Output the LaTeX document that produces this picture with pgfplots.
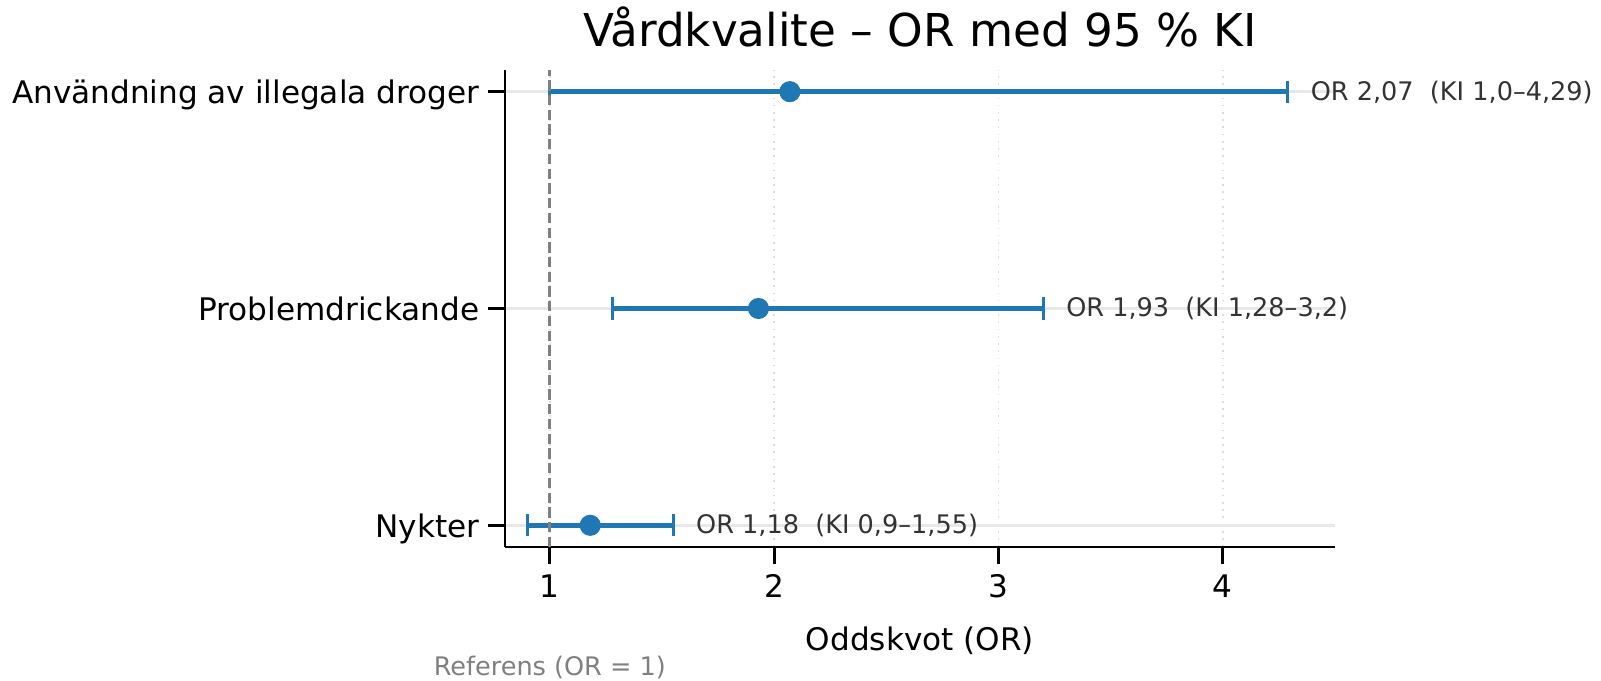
\documentclass[border=0pt]{standalone}
\usepackage{fontspec}
\setmainfont{DejaVu Sans}
\usepackage{pgfplots}
\pgfplotsset{compat=1.18}
\definecolor{mplblue}{HTML}{1F77B4}
\definecolor{annot}{HTML}{333333}
\definecolor{hgrid}{HTML}{E8E8EC}
\definecolor{vgrid}{HTML}{DDDDDD}
\begin{document}
\begin{tikzpicture}
\useasboundingbox (-181.8pt,-48.24pt) rectangle (394.56pt,196.92pt);
\begin{axis}[
  at={(0,0)}, anchor=south west,
  scale only axis, width=298.8pt, height=171.72pt,
  xmin=0.8, xmax=4.5, ymin=-0.1, ymax=2.1,
  clip=false,
  axis x line*=bottom, axis y line*=left,
  axis line style={-, line width=1pt, black},
  xtick={1,2,3,4},
  ytick={0,1,2},
  yticklabels={Nykter, Problemdrickande, Användning av illegala droger},
  tick align=outside, major tick length=6pt,
  tick style={line width=1pt, black},
  /pgf/number format/assume math mode=true,
  xticklabel style={font=\fontsize{11.2}{13}\selectfont, inner sep=0pt, anchor=north, yshift=-3.8pt},
  yticklabel style={font=\fontsize{11.2}{13}\selectfont, inner sep=0pt, anchor=base east, xshift=-3.1pt, yshift=-4.3pt},
  xmajorgrids, ymajorgrids,
  x grid style={vgrid, line width=0.6pt, dotted},
  y grid style={hgrid, line width=1pt},
  xlabel={Oddskvot (OR)},
  xlabel style={at={(axis description cs:0.5,0)}, anchor=base, yshift=-37.1pt, inner sep=0pt, font=\fontsize{11.2}{13}\selectfont},
]
\addplot[only marks, mark=*, mark size=3.6pt, color=mplblue,
  mark options={fill=mplblue, draw=mplblue},
  error bars/.cd, x dir=both, x explicit,
  error bar style={line width=1.6pt, color=mplblue},
  error mark options={rotate=90, line width=1pt, mark size=4pt, color=mplblue}]
coordinates {
  (2.07,2) += (2.22,0) -= (1.07,0)
  (1.93,1) += (1.27,0) -= (0.65,0)
  (1.18,0) += (0.37,0) -= (0.28,0)
};
\addplot[color=gray, line width=1pt, dash pattern=on 3.7pt off 1.6pt] coordinates {(1,-0.1) (1,2.1)};
\node[anchor=base west, inner sep=0pt, yshift=-3pt, text=annot, font=\fontsize{9.2}{11}\selectfont] at (axis cs:4.39,2) {OR 2,07~~(KI 1,0–4,29)};
\node[anchor=base west, inner sep=0pt, yshift=-3pt, text=annot, font=\fontsize{9.2}{11}\selectfont] at (axis cs:3.30,1) {OR 1,93~~(KI 1,28–3,2)};
\node[anchor=base west, inner sep=0pt, yshift=-3pt, text=annot, font=\fontsize{9.2}{11}\selectfont] at (axis cs:1.65,0) {OR 1,18~~(KI 0,9–1,55)};
\node[anchor=base, inner sep=0pt, yshift=-46.1pt, text=gray, font=\fontsize{9.2}{11}\selectfont] at (axis cs:1,-0.1) {Referens (OR = 1)};
\node[anchor=base, inner sep=0pt, yshift=8.6pt, font=\fontsize{16.3}{19}\selectfont] at (rel axis cs:0.5,1) {Vårdkvalite – OR med 95 \% KI};
\end{axis}
\end{tikzpicture}
\end{document}
